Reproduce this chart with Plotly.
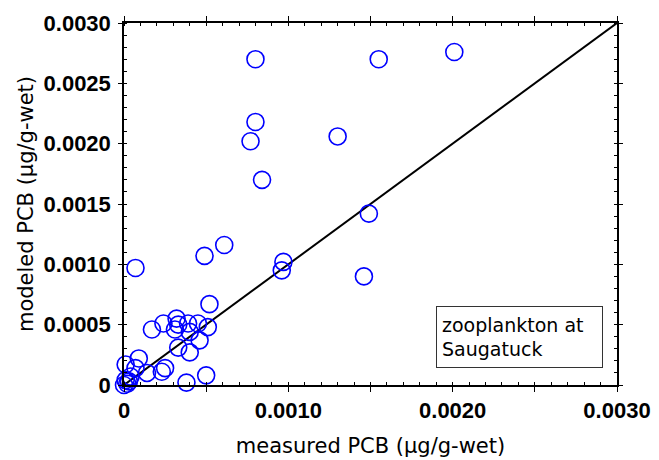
import plotly.graph_objects as go

# measured vs modeled PCB (µg/g-wet), zooplankton at Saugatuck
measured = [0.00201, 0.00155, 0.00080, 0.00080, 0.00077, 0.00130, 0.00084, 0.00149,
            0.00061, 0.00049, 0.00097, 0.00096, 0.00146, 0.00007, 0.00052, 0.00017,
            0.00024, 0.00032, 0.00033, 0.00031, 0.00039, 0.00045, 0.00051, 0.00046,
            0.00040, 0.00033, 0.00040, 0.00009, 0.00001, 0.00007, 0.00014, 0.00025,
            0.00023, 0.00038, 0.00050, 0.00001, 0.00002, 0.00003, 0.00000, 0.00004]
modeled = [0.00276, 0.00270, 0.00270, 0.00218, 0.00202, 0.00206, 0.00170, 0.00142,
           0.00116, 0.00107, 0.00102, 0.00095, 0.00090, 0.00097, 0.00067, 0.00046,
           0.00051, 0.00055, 0.00050, 0.00046, 0.00051, 0.00051, 0.00048, 0.00037,
           0.00044, 0.00031, 0.00027, 0.00022, 0.00017, 0.00014, 0.00010, 0.00014,
           0.00011, 0.00002, 0.00008, 0.00004, 0.00001, 0.00003, 0.00000, 0.00007]

one_to_one = [0.0, 0.003]

x_tickvals = [0, 0.0005, 0.001, 0.0015, 0.002, 0.0025, 0.003]
x_ticktext = ["0", "", "0.0010", "", "0.0020", "", "0.0030"]
y_tickvals = [0, 0.0005, 0.001, 0.0015, 0.002, 0.0025, 0.003]
y_ticktext = ["0", "0.0005", "0.0010", "0.0015", "0.0020", "0.0025", "0.0030"]

fig = go.Figure()
fig.add_trace(go.Scatter(x=one_to_one, y=one_to_one, mode="lines",
                         line=dict(color="black", width=2), cliponaxis=False,
                         showlegend=False))
fig.add_trace(go.Scatter(x=measured, y=modeled, mode="markers",
                         marker=dict(symbol="circle-open", size=17,
                                     color="#0000ff", line=dict(width=1.6, color="#0000ff")),
                         cliponaxis=False, showlegend=False))

tickfont = dict(family="Liberation Sans", size=22, color="black", weight="bold")

fig.update_xaxes(range=[0, 0.003], tickmode="array", tickvals=x_tickvals, ticktext=x_ticktext,
                 ticks="outside", ticklen=5, tickwidth=1, tickcolor="black",
                 showline=True, linecolor="black", linewidth=1.5, mirror="ticks",
                 showgrid=False, zeroline=False, tickfont=tickfont, automargin=False,
                 minor=dict(tickmode="linear", tick0=0, dtick=0.0001, ticks="inside",
                            ticklen=3, tickcolor="black", tickwidth=1),
                 title=dict(text="measured PCB (µg/g-wet)",
                            font=dict(family="DejaVu Sans", size=21, color="black"), standoff=16))
fig.update_yaxes(range=[0, 0.003], tickmode="array", tickvals=y_tickvals, ticktext=y_ticktext,
                 ticks="outside", ticklen=4, tickwidth=1, tickcolor="black",
                 showline=True, linecolor="black", linewidth=1.5, mirror="ticks",
                 showgrid=False, zeroline=False, tickfont=tickfont, automargin=False,
                 ticklabelstandoff=3,
                 minor=dict(tickmode="linear", tick0=0, dtick=0.0001, ticks="inside",
                            ticklen=3, tickcolor="black", tickwidth=1),
                 title=dict(text="modeled PCB (µg/g-wet)",
                            font=dict(family="DejaVu Sans", size=21, color="black"), standoff=4))

fig.add_annotation(xref="paper", yref="paper", x=0.633, y=0.047,
                   xanchor="left", yanchor="bottom", align="left",
                   text="zooplankton at<br>Saugatuck", showarrow=False,
                   font=dict(family="DejaVu Sans", size=19, color="black"),
                   width=155, height=50, borderpad=5, bordercolor="#333",
                   borderwidth=1, bgcolor="white")

fig.update_layout(width=651, height=452, margin=dict(l=116, r=42, t=15, b=75),
                  plot_bgcolor="white", paper_bgcolor="white")

fig.write_html("out.html")
